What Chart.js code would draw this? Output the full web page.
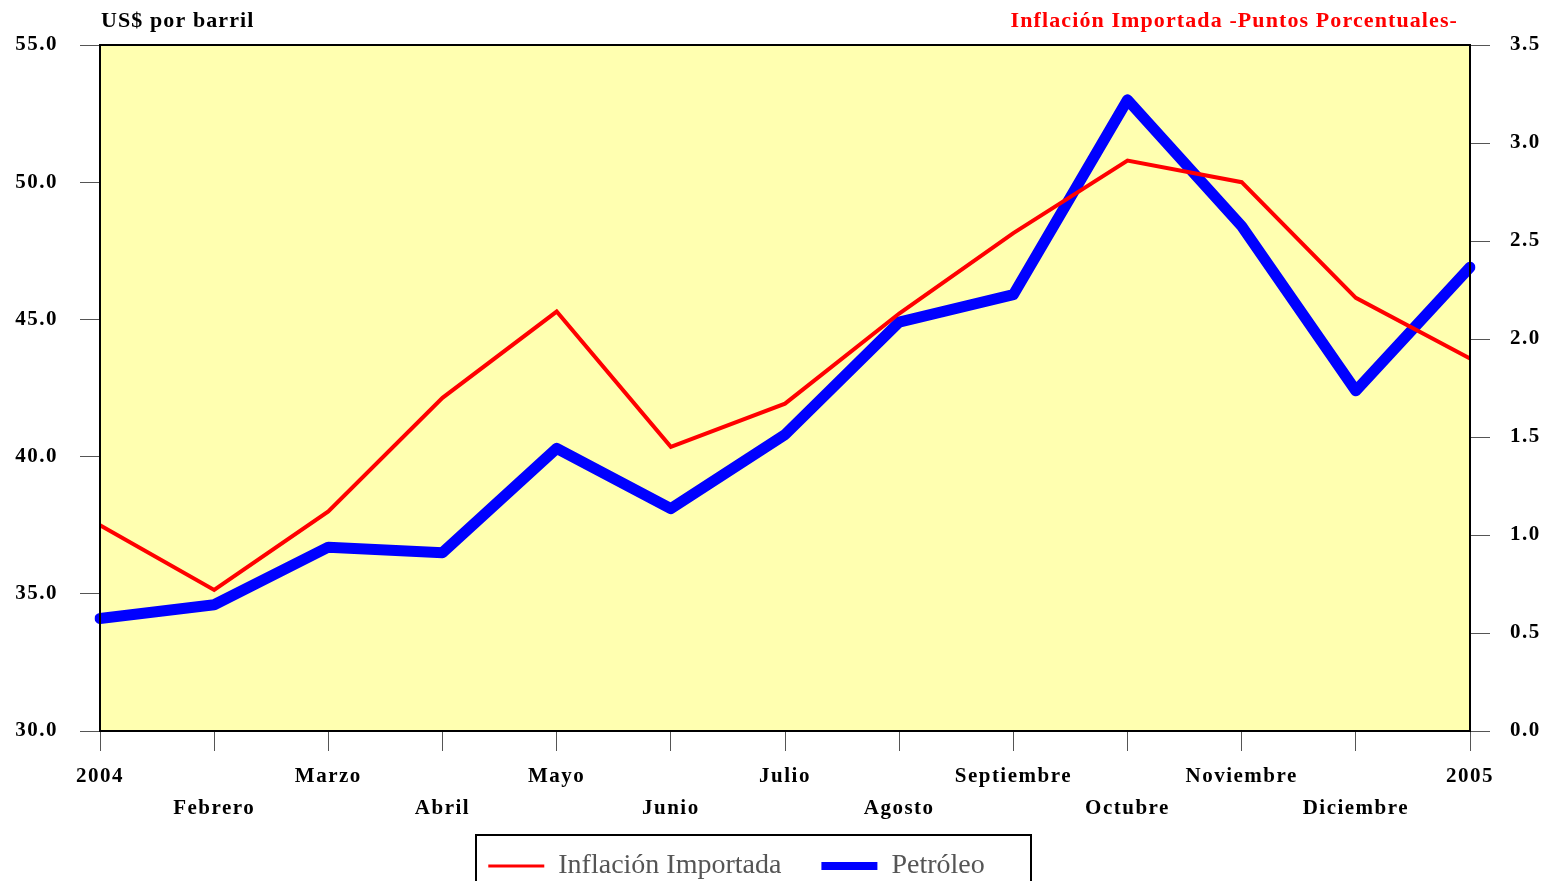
<!DOCTYPE html>
<html>
<head>
<meta charset="utf-8">
<script src="https://cdn.jsdelivr.net/npm/chart.js@4"></script>
<style>
  body { margin: 0; background: #fff; }
  canvas { display: block; }
</style>
</head>
<body>
<canvas id="chart" width="1547" height="881"></canvas>
<script>
const months = ["2004", "Febrero", "Marzo", "Abril", "Mayo", "Junio", "Julio",
  "Agosto", "Septiembre", "Octubre", "Noviembre", "Diciembre", "2005"];
const inflacion = [1.05, 0.72, 1.12, 1.70, 2.14, 1.45, 1.67, 2.13, 2.54, 2.91, 2.80, 2.21, 1.90];
const petroleo = [34.1, 34.6, 36.7, 36.5, 40.3, 38.1, 40.8, 44.9, 45.9, 53.0, 48.4, 42.4, 46.9];

const serif = "'Liberation Serif', 'DejaVu Serif', serif";

// yellow plot background, frame, header texts and legend box
const frame = {
  id: 'frame',
  afterLayout(chart) {
    const lg = chart.legend;
    lg.left -= 37;
    lg.right -= 37;
    lg.top -= 23;
    if (!lg._plain) {
      // legend text without the wide spacing used elsewhere
      const orig = lg.draw;
      lg.draw = function () {
        const ctx = this.ctx, s = ctx.letterSpacing;
        ctx.letterSpacing = '0px';
        orig.apply(this, arguments);
        ctx.letterSpacing = s;
      };
      lg._plain = true;
    }
  },
  beforeDraw(chart) {
    chart.ctx.letterSpacing = '1.5px';
  },
  beforeDatasetsDraw(chart) {
    const a = chart.chartArea, ctx = chart.ctx;
    ctx.save();
    ctx.fillStyle = '#ffffb0';
    ctx.fillRect(a.left, a.top, a.right - a.left, a.bottom - a.top);
    ctx.restore();
  },
  afterDraw(chart) {
    const a = chart.chartArea, ctx = chart.ctx;
    ctx.save();
    ctx.strokeStyle = '#000';
    ctx.lineWidth = 2;
    ctx.strokeRect(a.left, a.top, a.right - a.left, a.bottom - a.top);
    ctx.font = 'bold 22px ' + serif;
    ctx.letterSpacing = '1.1px';
    ctx.textBaseline = 'middle';
    ctx.fillStyle = '#000';
    ctx.textAlign = 'left';
    ctx.fillText('US$ por barril', 101, 21);
    ctx.fillStyle = '#ff0000';
    ctx.textAlign = 'right';
    ctx.fillText('Inflación Importada -Puntos Porcentuales-', 1458, 21);
    ctx.strokeStyle = '#000';
    ctx.lineWidth = 2;
    ctx.strokeRect(476, 835, 555, 60);
    ctx.restore();
  }
};

new Chart(document.getElementById('chart'), {
  type: 'line',
  data: {
    labels: months,
    datasets: [{
      label: 'Inflación Importada',
      data: inflacion,
      yAxisID: 'y2',
      borderColor: '#ff0000',
      backgroundColor: '#ff0000',
      borderWidth: 4,
      pointRadius: 0,
      tension: 0
    }, {
      label: 'Petróleo',
      data: petroleo,
      yAxisID: 'y',
      borderColor: '#0000ff',
      backgroundColor: '#0000ff',
      borderWidth: 11,
      borderCapStyle: 'round',
      borderJoinStyle: 'round',
      pointRadius: 0,
      tension: 0
    }]
  },
  options: {
    responsive: false,
    animation: false,
    layout: { padding: { top: 45, left: 0, right: 0, bottom: -32 } },
    plugins: {
      tooltip: { enabled: false },
      legend: {
        position: 'bottom',
        labels: {
          font: { family: serif, size: 28 },
          color: '#555',
          padding: 40,
          usePointStyle: true,
          pointStyleWidth: 56,
          generateLabels(chart) {
            return chart.data.datasets.map((ds, i) => ({
              text: ds.label,
              fillStyle: ds.borderColor,
              strokeStyle: ds.borderColor,
              fontColor: '#555',
              lineWidth: i === 0 ? 3 : 8,
              pointStyle: 'line',
              datasetIndex: i,
              hidden: false
            }));
          }
        }
      }
    },
    scales: {
      x: {
        offset: false,
        grid: { drawOnChartArea: false, drawTicks: true, tickLength: 20, color: '#555' },
        border: { display: true, color: '#000', width: 2 },
        ticks: {
          autoSkip: false,
          maxRotation: 0,
          color: '#000',
          padding: 10,
          font: { family: serif, size: 21, weight: 'bold', lineHeight: 1.5 },
          callback: (v, i) => i % 2 ? ['', months[i]] : months[i]
        },
        afterFit(scale) { scale.height = 104; }
      },
      y: {
        position: 'left',
        min: 30, max: 55,
        grid: { drawOnChartArea: false, drawTicks: true, tickLength: 20, color: '#555' },
        border: { display: true, color: '#000', width: 2 },
        ticks: {
          stepSize: 5,
          color: '#000',
          padding: 22,
          font: { family: serif, size: 21, weight: 'bold' },
          callback: v => v.toFixed(1)
        },
        afterFit(scale) { scale.width = 100; }
      },
      y2: {
        position: 'right',
        min: 0, max: 3.5,
        grid: { drawOnChartArea: false, drawTicks: true, tickLength: 20, color: '#555' },
        border: { display: true, color: '#000', width: 2 },
        ticks: {
          stepSize: 0.5,
          color: '#000',
          padding: 20,
          font: { family: serif, size: 21, weight: 'bold' },
          callback: v => v.toFixed(1)
        },
        afterFit(scale) { scale.width = 77; }
      }
    }
  },
  plugins: [frame]
});
</script>
</body>
</html>
